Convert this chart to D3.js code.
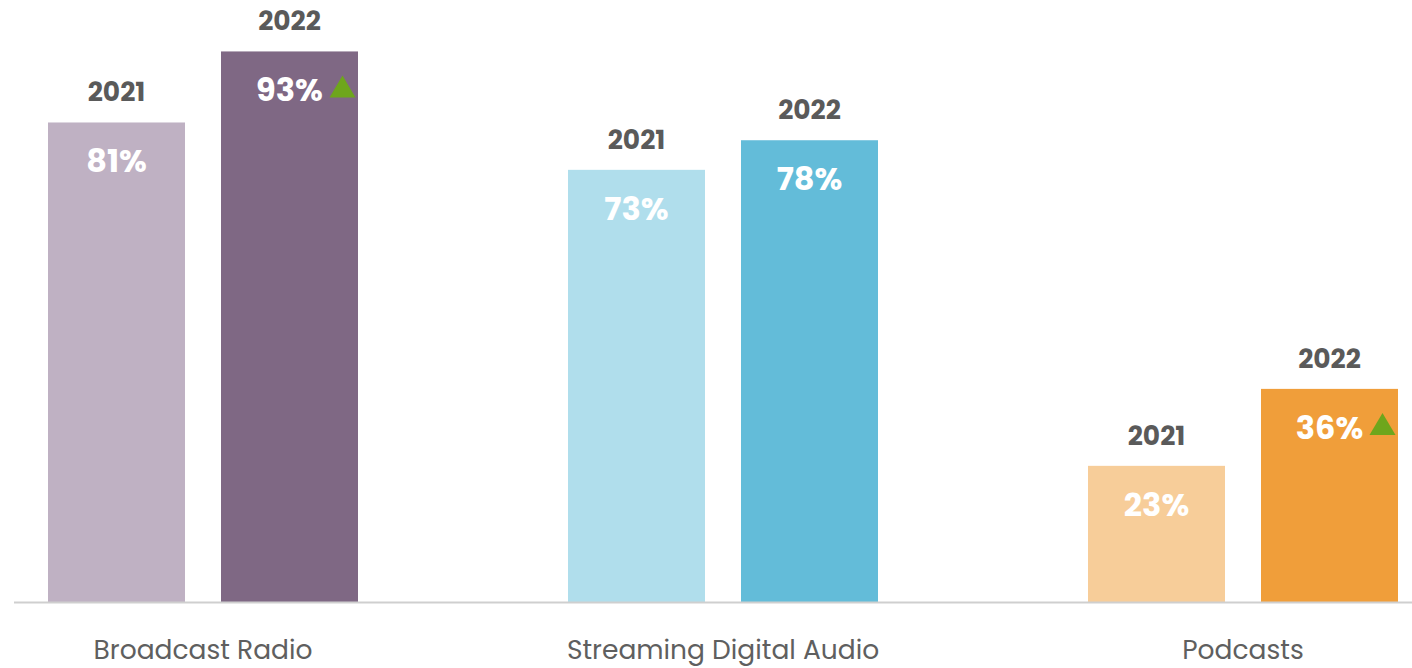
<!DOCTYPE html>
<html>
<head>
<meta charset="utf-8">
<script src="https://cdn.jsdelivr.net/npm/d3@7"></script>
<style>
  html, body { margin: 0; padding: 0; background: #fff; }
  svg { display: block; }
</style>
</head>
<body>
<svg id="chart" width="1412" height="668"></svg>
<script>
// Audio reach by platform, 2021 vs 2022
const categories = ["Broadcast Radio", "Streaming Digital Audio", "Podcasts"];
const years = ["2021", "2022"];
const values2021 = [81, 73, 23];
const values2022 = [93, 78, 36];
const significantUp = [true, false, true];   // green arrow beside 2022 value
const palette2021 = ["#bfb1c3", "#b0deec", "#f7cd99"];
const palette2022 = ["#7f6884", "#63bcd9", "#f09e3a"];

const W = 1412, H = 668;
const baseY = 602;
const svg = d3.select("#chart");

const font = "Poppins, Inter, 'Open Sans', sans-serif";

const x0 = d3.scaleBand().domain(categories).range([-57, 1503]).padding(0);
const x1 = d3.scaleBand().domain(years).range([105, 415]).paddingInner(36 / 173).paddingOuter(0);
const y = d3.scaleLinear().domain([0, 100]).range([baseY, baseY - 592]);

const rows = categories.map((c, i) => ({
  cat: c, i,
  bars: [
    { year: "2021", v: values2021[i], color: palette2021[i], up: false },
    { year: "2022", v: values2022[i], color: palette2022[i], up: significantUp[i] }
  ]
}));

const g = svg.selectAll("g.cat").data(rows).join("g")
  .attr("class", "cat")
  .attr("transform", d => `translate(${x0(d.cat)},0)`);

const bar = g.selectAll("g.bar").data(d => d.bars).join("g").attr("class", "bar");

bar.append("rect")
  .attr("x", d => x1(d.year))
  .attr("y", d => y(d.v))
  .attr("width", x1.bandwidth())
  .attr("height", d => y(0) - y(d.v))
  .attr("fill", d => d.color);

// year above each bar
bar.append("text")
  .attr("x", d => x1(d.year) + x1.bandwidth() / 2)
  .attr("y", d => y(d.v) - 21)
  .attr("text-anchor", "middle")
  .attr("font-family", font)
  .attr("font-weight", 700)
  .attr("font-size", 26.5)
  .attr("fill", "#5a5a5a")
  .text(d => d.year);

// value inside each bar
bar.append("text")
  .attr("class", "val")
  .attr("x", d => x1(d.year) + x1.bandwidth() / 2)
  .attr("y", d => y(d.v) + 50)
  .attr("text-anchor", "middle")
  .attr("font-family", font)
  .attr("font-weight", 700)
  .attr("font-size", 32)
  .attr("fill", "#ffffff")
  .text(d => d.v + "%");

// green up-triangle next to the value
bar.filter(d => d.up).append("path")
  .attr("d", d => {
    const cx = x1(d.year) + x1.bandwidth() / 2 + 53;
    const top = y(d.v) + 24, bot = y(d.v) + 46;
    return `M${cx - 13},${bot} L${cx},${top} L${cx + 13},${bot} Z`;
  })
  .attr("fill", "#6ea61c");

// baseline
svg.append("line")
  .attr("x1", 14).attr("x2", W)
  .attr("y1", baseY + 0.5).attr("y2", baseY + 0.5)
  .attr("stroke", "#cfcfcf").attr("stroke-width", 2);

// category labels
svg.selectAll("text.catlab").data(categories).join("text")
  .attr("class", "catlab")
  .attr("x", d => x0(d) + x0.bandwidth() / 2)
  .attr("y", 659)
  .attr("text-anchor", "middle")
  .attr("font-family", font)
  .attr("font-size", 26.5)
  .attr("fill", "#5f5f5f")
  .text(d => d);
</script>
</body>
</html>
